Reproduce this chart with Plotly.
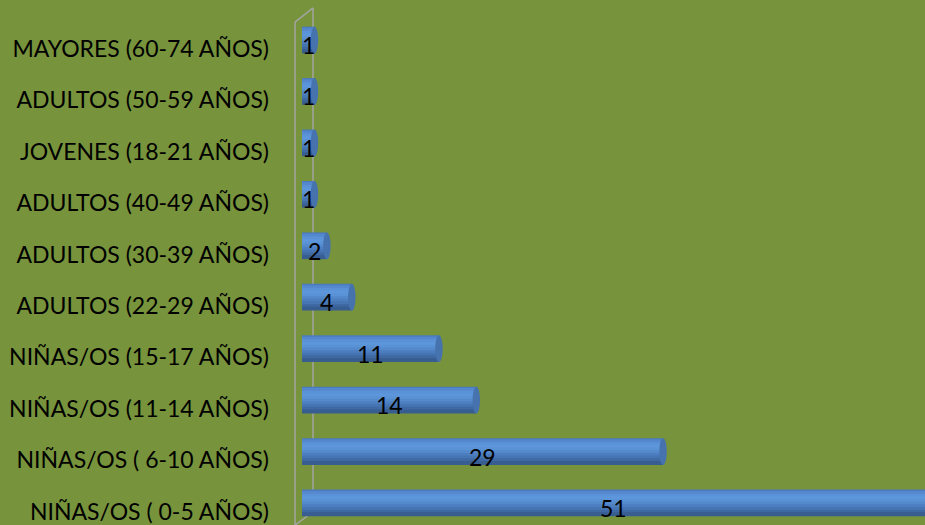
import plotly.graph_objects as go

categories = [
    "NIÑAS/OS ( 0-5 AÑOS)",
    "NIÑAS/OS ( 6-10 AÑOS)",
    "NIÑAS/OS (11-14 AÑOS)",
    "NIÑAS/OS (15-17 AÑOS)",
    "ADULTOS (22-29 AÑOS)",
    "ADULTOS (30-39 AÑOS)",
    "ADULTOS (40-49 AÑOS)",
    "JOVENES (18-21 AÑOS)",
    "ADULTOS (50-59 AÑOS)",
    "MAYORES (60-74 AÑOS)",
]
values = [51, 29, 14, 11, 4, 2, 1, 1, 1, 1]

BG = "#77933C"
FONT = "Lato"
XMAX = 50.04
BAR_W = 0.52
positions = list(range(len(categories)))

band_colors = ["#4a7bbf", "#5487ce", "#5a92d7", "#5d96db", "#5a92d6",
               "#5489cc", "#4d7fc0", "#4675b3", "#3f69a3", "#385d91"]
nb = len(band_colors)
bw = BAR_W / nb

fig = go.Figure()
for k, c in enumerate(band_colors):
    fig.add_trace(go.Bar(
        x=values, y=positions, orientation="h",
        width=bw * (1.0 if k == 0 else 1.5), offset=BAR_W / 2 - (k + 1) * bw,
        marker=dict(color=c, line=dict(width=0)),
        hoverinfo="skip", showlegend=False,
    ))

shapes = []
for p, v in zip(positions, values):
    shapes.append(dict(type="circle", xref="x", yref="y",
                       x0=v - 0.3, x1=v + 0.3, y0=p - BAR_W / 2, y1=p + BAR_W / 2,
                       fillcolor="#4672ad", line=dict(width=0), layer="above"))

# 3D wall outline
wall = dict(color="rgba(165,165,165,0.95)", width=1.5)
shapes += [
    dict(type="line", xref="paper", yref="paper", x0=-0.0112, x1=-0.0112, y0=0.0, y1=0.958, line=wall, layer="below"),
    dict(type="line", xref="paper", yref="paper", x0=0.0177, x1=0.0177, y0=0.025, y1=0.985, line=wall, layer="below"),
    dict(type="line", xref="paper", yref="paper", x0=-0.0112, x1=0.0177, y0=0.958, y1=0.985, line=wall, layer="below"),
    dict(type="line", xref="paper", yref="paper", x0=-0.0112, x1=0.0177, y0=0.0, y1=0.025, line=wall, layer="below"),
]

annotations = []
for p, v in zip(positions, values):
    annotations.append(dict(x=min(v, XMAX) / 2, y=p, xref="x", yref="y",
                            text=str(v), showarrow=False, yshift=-5,
                            font=dict(family=FONT, size=23, color="black")))

fig.update_layout(
    width=925, height=525,
    margin=dict(l=302, r=0, t=0, b=0),
    paper_bgcolor=BG, plot_bgcolor=BG,
    barmode="overlay",
    shapes=shapes, annotations=annotations,
    font=dict(family=FONT, size=23, color="black"),
    xaxis=dict(range=[0, XMAX], showgrid=False, zeroline=False,
               showticklabels=False, showline=False, fixedrange=True),
    yaxis=dict(range=[-0.428, 9.778], showgrid=False, zeroline=False,
               tickmode="array", tickvals=[p - 0.17 for p in positions],
               ticktext=categories, ticks="", ticklabelstandoff=32,
               showline=False, fixedrange=True,
               tickfont=dict(family=FONT, size=23, color="black")),
)

fig.write_html("out.html", config={"displayModeBar": False},
               post_script="document.body.style.margin='0';document.body.style.background='" + BG + "';")
